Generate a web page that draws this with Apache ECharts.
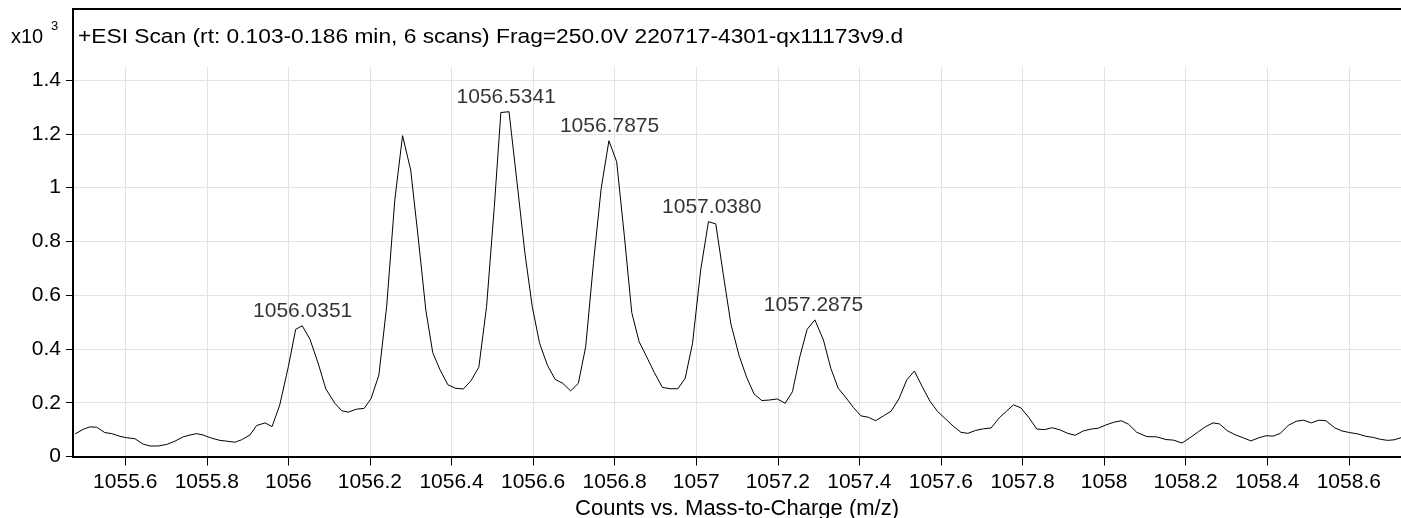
<!DOCTYPE html>
<html>
<head>
<meta charset="utf-8">
<script src="https://cdn.jsdelivr.net/npm/echarts@6/dist/echarts.min.js"></script>
<style>
html,body{margin:0;padding:0;background:#fff;}
#c{width:1401px;height:518px;}
</style>
</head>
<body>
<div id="c"></div>
<script>
// m/z values (x)
const mz = [
1055.477,1055.497,1055.513,1055.530,1055.550,1055.567,1055.587,1055.603,1055.624,1055.644,1055.661,1055.681,1055.702,1055.722,1055.742,1055.759,1055.775,1055.791,1055.812,1055.832,1055.849,1055.869,1055.885,1055.906,1055.922,1055.943,1055.960,1055.979,1056.000,1056.018,1056.034,1056.053,1056.073,1056.092,1056.114,
1056.131,1056.147,1056.167,1056.186,1056.203,1056.222,1056.241,1056.261,1056.280,1056.300,1056.319,1056.337,1056.354,1056.372,1056.391,1056.409,1056.429,1056.448,1056.467,1056.486,1056.505,1056.521,1056.541,1056.560,1056.580,1056.598,1056.616,1056.635,1056.654,1056.673,1056.692,1056.711,1056.729,1056.748,1056.767,
1056.786,1056.805,1056.824,1056.842,1056.860,1056.879,1056.897,1056.917,1056.936,1056.955,1056.973,1056.991,1057.011,1057.030,1057.048,1057.066,1057.085,1057.105,1057.124,1057.142,1057.161,1057.179,1057.199,1057.218,1057.236,1057.254,1057.272,1057.291,1057.312,1057.330,1057.348,1057.367,1057.385,1057.404,1057.422,1057.440,
1057.459,1057.478,1057.497,1057.516,1057.535,1057.554,1057.573,1057.592,1057.612,1057.630,1057.649,1057.666,1057.685,1057.704,1057.723,1057.743,1057.761,1057.778,1057.796,1057.816,1057.835,1057.854,1057.873,1057.892,1057.911,1057.929,1057.949,1057.968,1057.985,1058.004,1058.023,1058.042,1058.060,1058.080,
1058.105,1058.129,1058.152,1058.170,1058.191,1058.211,1058.231,1058.249,1058.267,1058.283,1058.302,1058.321,1058.342,1058.360,1058.380,1058.397,1058.415,1058.432,1058.452,1058.471,1058.489,1058.508,1058.527,1058.544,1058.565,1058.583,1058.602,1058.622,1058.642,1058.660,1058.677,1058.695,1058.711,1058.728
];
// counts (x10^3)
const counts = [
0.084,0.101,0.110,0.109,0.089,0.085,0.075,0.070,0.066,0.046,0.039,0.039,0.045,0.057,0.073,0.080,0.085,0.080,0.068,0.060,0.057,0.053,0.062,0.080,0.115,0.125,0.111,0.192,0.334,0.473,0.486,0.436,0.347,0.251,0.198,
0.170,0.165,0.176,0.179,0.216,0.303,0.557,0.954,1.193,1.065,0.805,0.545,0.386,0.322,0.267,0.254,0.251,0.282,0.332,0.557,0.929,1.279,1.282,1.028,0.756,0.557,0.421,0.340,0.287,0.272,0.244,0.272,0.408,0.718,0.997,
1.174,1.096,0.817,0.535,0.427,0.369,0.313,0.257,0.252,0.252,0.291,0.421,0.694,0.873,0.865,0.681,0.493,0.376,0.293,0.232,0.208,0.210,0.214,0.198,0.241,0.371,0.473,0.508,0.433,0.328,0.254,0.219,0.183,0.151,0.146,0.133,
0.151,0.169,0.214,0.284,0.318,0.260,0.206,0.167,0.139,0.113,0.090,0.086,0.097,0.103,0.106,0.144,0.169,0.192,0.181,0.144,0.102,0.100,0.107,0.099,0.086,0.079,0.095,0.102,0.105,0.117,0.127,0.133,0.120,0.090,
0.074,0.073,0.063,0.061,0.050,0.070,0.092,0.111,0.125,0.121,0.096,0.081,0.069,0.058,0.070,0.077,0.076,0.086,0.116,0.131,0.135,0.125,0.135,0.133,0.107,0.095,0.089,0.084,0.075,0.071,0.064,0.060,0.062,0.070
];
// labelled peaks
const peakMz = [1056.0351, 1056.5341, 1056.7875, 1057.0380, 1057.2875];
const peakCounts = [0.486, 1.282, 1.174, 0.873, 0.508];
const peakLabels = ['1056.0351', '1056.5341', '1056.7875', '1057.0380', '1057.2875'];
// axis ticks
const xTicks = [1055.6, 1055.8, 1056, 1056.2, 1056.4, 1056.6, 1056.8, 1057, 1057.2, 1057.4, 1057.6, 1057.8, 1058, 1058.2, 1058.4, 1058.6];
const yTicks = [0, 0.2, 0.4, 0.6, 0.8, 1, 1.2, 1.4];
const xMin = 1055.472, xMax = 1058.728;
const yMin = 0, yMax = 1.4483;
const titleText = '+ESI Scan (rt: 0.103-0.186 min, 6 scans) Frag=250.0V 220717-4301-qx11173v9.d';
const xName = 'Counts vs. Mass-to-Charge (m/z)';

const FONT = "'Liberation Sans', Arial, Helvetica, sans-serif";
const chart = echarts.init(document.getElementById('c'), null, {renderer: 'canvas'});
const lineData = mz.map((x, i) => [x, counts[i]]);
const peakData = peakMz.map((x, i) => ({value: [x, peakCounts[i]], name: peakLabels[i]}));

chart.setOption({
  animation: false,
  backgroundColor: '#ffffff',
  grid: {left: 73, right: 0, top: 67, bottom: 61.5, containLabel: false, outerBoundsMode: 'none'},
  xAxis: {
    type: 'value', min: xMin, max: xMax,
    name: xName, nameLocation: 'middle', nameGap: 41,
    nameTextStyle: {color: '#000', fontSize: 22, fontFamily: FONT},
    axisLine: {show: true, onZero: false, lineStyle: {color: '#000', width: 2}},
    axisTick: {show: true, length: 9, customValues: xTicks, lineStyle: {color: '#000', width: 1}},
    axisLabel: {customValues: xTicks, color: '#000', fontSize: 21, fontFamily: FONT, margin: 15,
      formatter: v => String(v)},
    splitLine: {show: true, lineStyle: {color: '#e2e2e2', width: 1}}
  },
  yAxis: {
    type: 'value', min: yMin, max: yMax,
    axisLine: {show: true, onZero: false, lineStyle: {color: '#000', width: 2}},
    axisTick: {show: true, length: 7, customValues: yTicks, lineStyle: {color: '#000', width: 1}},
    axisLabel: {customValues: yTicks, color: '#000', fontSize: 21, fontFamily: FONT, margin: 12,
      formatter: v => String(v)},
    splitLine: {show: true, lineStyle: {color: '#e2e2e2', width: 1}}
  },
  series: [
    {
      type: 'line', data: lineData, showSymbol: false, symbol: 'none',
      lineStyle: {color: '#000', width: 1}, smooth: false, clip: true, z: 3
    },
    {
      type: 'scatter', data: peakData, symbolSize: 0, symbol: 'circle',
      itemStyle: {color: 'rgba(0,0,0,0)'},
      label: {show: true, position: 'top', distance: 4, color: '#000', fontSize: 21, fontFamily: FONT,
        formatter: p => p.name},
      z: 4
    }
  ],
  graphic: [
    {type: 'rect', shape: {x: 73, y: 9, width: 1340, height: 448}, style: {fill: 'none', stroke: '#000', lineWidth: 2}, silent: true, z: 10},
    {type: 'text', x: 78, y: 37, scaleX: 1.11, style: {text: titleText, fill: '#000', font: '20.5px ' + FONT, textVerticalAlign: 'middle', textAlign: 'left'}, z: 10},
    {type: 'text', x: 11, y: 37, style: {text: 'x10', fill: '#000', font: '20px ' + FONT, textVerticalAlign: 'middle', textAlign: 'left'}, z: 10},
    {type: 'text', x: 51, y: 26, style: {text: '3', fill: '#000', font: '13px ' + FONT, textVerticalAlign: 'middle', textAlign: 'left'}, z: 10}
  ]
});
</script>
</body>
</html>
